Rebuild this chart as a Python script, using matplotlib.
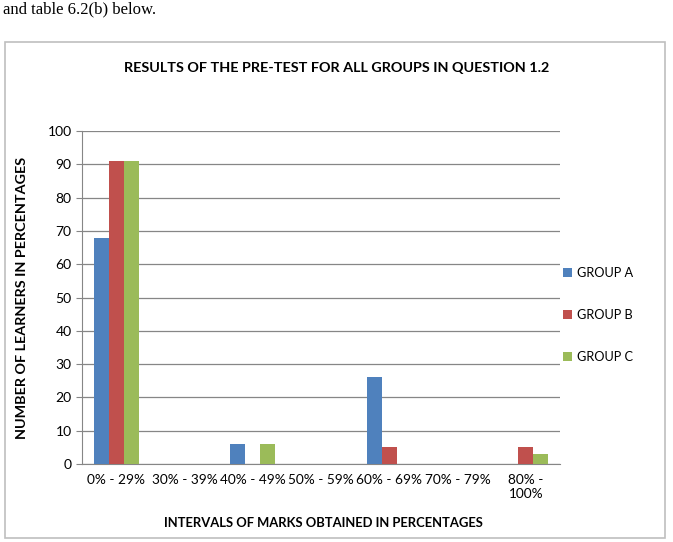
import numpy as np
import matplotlib.pyplot as plt
from matplotlib.patches import Rectangle

# Datos
categorias = ['0% - 29%', '30% - 39%', '40% - 49%', '50% - 59%',
              '60% - 69%', '70% - 79%', '80% -\n100%']
grupo_a = [68, 0, 6, 0, 26, 0, 0]
grupo_b = [91, 0, 0, 0, 5, 0, 5]
grupo_c = [91, 0, 6, 0, 0, 0, 3]
series = ['GROUP A', 'GROUP B', 'GROUP C']
colores = ['#4F81BD', '#C0504D', '#9BBB59']

plt.rcParams['font.family'] = ['Lato', 'DejaVu Sans']

fig = plt.figure(figsize=(6.73, 5.42), dpi=100)

# texto de la pagina y marco del grafico
fig.text(0.005, 0.998, 'and table 6.2(b) below.', family='Liberation Serif',
         fontsize=12, va='top', ha='left')
fig.patches.append(Rectangle((0.0074, 0.0074), 0.9807, 0.915, transform=fig.transFigure,
                             fill=False, edgecolor='#BFBFBF', linewidth=1.2))

ax = fig.add_axes([0.1218, 0.1439, 0.7104, 0.6144])
x = np.arange(len(categorias))
ancho = 0.22
for i, (vals, nombre) in enumerate(zip([grupo_a, grupo_b, grupo_c], series)):
    ax.bar(x + (i - 1) * ancho, vals, ancho, color=colores[i], label=nombre, zorder=3)

ax.set_xlim(-0.5, len(categorias) - 0.5)
ax.set_ylim(0, 100)
ax.set_yticks(range(0, 101, 10))
ax.set_xticks(x)
ax.set_xticklabels(categorias, fontsize=9.8)
ax.tick_params(axis='y', labelsize=10, length=4, color='#868686')
ax.tick_params(axis='x', length=0, pad=7)
ax.grid(axis='y', color='#868686', linewidth=0.9, zorder=0)
for lado in ['top', 'right']:
    ax.spines[lado].set_visible(False)
for lado in ['left', 'bottom']:
    ax.spines[lado].set_color('#868686')

fig.text(0.50, 0.874, 'RESULTS OF THE PRE-TEST FOR ALL GROUPS IN QUESTION 1.2',
         ha='center', va='center', fontsize=10.4, fontweight='bold')
fig.text(0.033, 0.45, 'NUMBER OF LEARNERS IN PERCENTAGES', rotation=90,
         ha='center', va='center', fontsize=10.4, fontweight='bold')
fig.text(0.48, 0.035, 'INTERVALS OF MARKS OBTAINED IN PERCENTAGES',
         ha='center', va='center', fontsize=9.4, fontweight='bold')

ax.legend(loc='center left', bbox_to_anchor=(0.983, 0.447), frameon=False,
          fontsize=9.2, handlelength=0.7, handleheight=0.7, labelspacing=2.35,
          handletextpad=0.4)

fig.savefig('out.png', dpi=100)
